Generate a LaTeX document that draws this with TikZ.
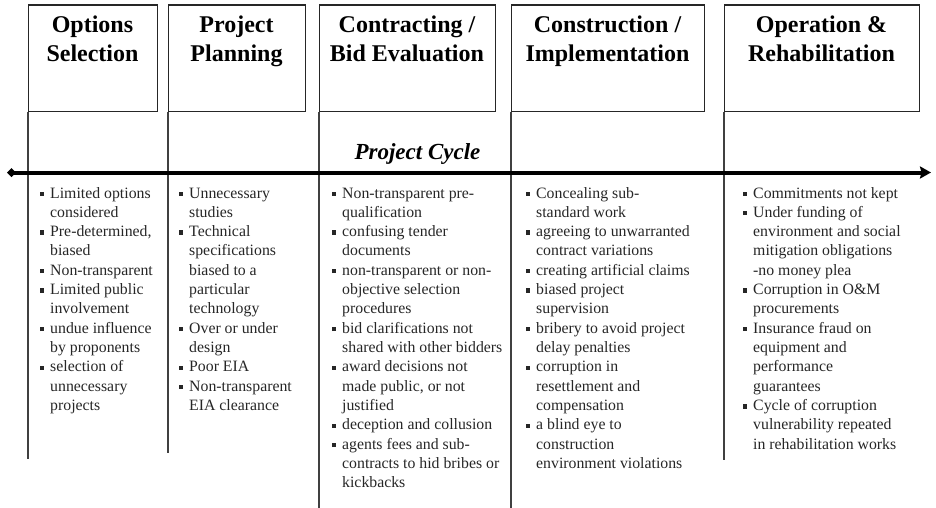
\documentclass[tikz,border=0pt]{standalone}
\usepackage{fontspec}
\setmainfont{Liberation Serif}
\usetikzlibrary{arrows.meta}
\newcommand\bodyfont{\fontsize{15.8}{19.33}\selectfont}
\newcommand\headfont{\fontsize{24}{28.7}\selectfont\bfseries}
\newcommand\bu{\makebox[10.5pt][l]{\raisebox{2.1pt}{\rule{4.2pt}{4.2pt}}}}
\newcommand\cu{\hspace*{10.5pt}}
\tikzset{
  boxst/.style={draw=black!85, line width=1.2pt, inner sep=0pt, anchor=north west},
  headst/.style={anchor=base, inner sep=0pt, text=black},
  listst/.style={anchor=base west, inner sep=0pt, text=black!85},
  colline/.style={draw=black!75, line width=1.4pt},
  axisst/.style={line width=4pt, {Diamond[length=9pt,width=9pt]}-{Stealth[length=11pt,width=12pt,inset=1.5pt]}}
}
\begin{document}
\begin{tikzpicture}[x=1pt,y=-1pt]
\useasboundingbox (0,0) rectangle (936,508);
% header boxes
\node[boxst, minimum width=129pt, minimum height=106.2pt] (b1) at (28,4.5) {};
\node[boxst, minimum width=137pt, minimum height=106.2pt] (b2) at (168,4.5) {};
\node[boxst, minimum width=176pt, minimum height=106.2pt] (b3) at (319,4.5) {};
\node[boxst, minimum width=193pt, minimum height=106.2pt] (b4) at (511,4.5) {};
\node[boxst, minimum width=195pt, minimum height=106.2pt] (b5) at (724,4.5) {};
% headings
\node[headst] (h1) at (92.5,33) {\parbox[t]{180pt}{\headfont\centering Options\\Selection}};
\node[headst] (h2) at (236.5,33) {\parbox[t]{180pt}{\headfont\centering Project\\Planning}};
\node[headst] (h3) at (407,33) {\parbox[t]{200pt}{\headfont\centering Contracting /\\Bid Evaluation}};
\node[headst] (h4) at (607.5,33) {\parbox[t]{210pt}{\headfont\centering Construction /\\Implementation}};
\node[headst] (h5) at (821.5,33) {\parbox[t]{210pt}{\headfont\centering Operation \&\\Rehabilitation}};
% column lines
\coordinate (c1) at (28,459);
\coordinate (c2) at (168,453);
\coordinate (c3) at (319,508);
\coordinate (c4) at (511,508);
\coordinate (c5) at (724,460);
\draw[colline] (b1.south west) -- (c1);
\draw[colline] (b2.south west) -- (c2);
\draw[colline] (b3.south west) -- (c3);
\draw[colline] (b4.south west) -- (c4);
\draw[colline] (b5.south west) -- (c5);
% axis
\coordinate (axL) at (7,172.5);
\coordinate (axR) at (931,172.5);
\draw[axisst] (axL) -- (axR);
\node[anchor=base, inner sep=0pt, font=\fontsize{23}{27}\selectfont\bfseries\itshape] (pc) at (417.5,159) {Project Cycle};
% lists
\node[listst] (l1) at (39.5,198) {\parbox[t]{200pt}{\bodyfont\raggedright
\bu Limited options\\ \cu considered\\
\bu Pre-determined,\\ \cu biased\\
\bu Non-transparent\\
\bu Limited public\\ \cu involvement\\
\bu undue influence\\ \cu by proponents\\
\bu selection of\\ \cu unnecessary\\ \cu projects}};
\node[listst] (l2) at (178.5,198) {\parbox[t]{200pt}{\bodyfont\raggedright
\bu Unnecessary\\ \cu studies\\
\bu Technical\\ \cu specifications\\ \cu biased to a\\ \cu particular\\ \cu technology\\
\bu Over or under\\ \cu design\\
\bu Poor EIA\\
\bu Non-transparent\\ \cu EIA clearance}};
\node[listst] (l3) at (331.5,198) {\parbox[t]{220pt}{\bodyfont\raggedright
\bu Non-transparent pre-\\ \cu qualification\\
\bu confusing tender\\ \cu documents\\
\bu non-transparent or non-\\ \cu objective selection\\ \cu procedures\\
\bu bid clarifications not\\ \cu shared with other bidders\\
\bu award decisions not\\ \cu made public, or not\\ \cu justified\\
\bu deception and collusion\\
\bu agents fees and sub-\\ \cu contracts to hid bribes or\\ \cu kickbacks}};
\node[listst] (l4) at (525.5,198) {\parbox[t]{220pt}{\bodyfont\raggedright
\bu Concealing sub-\\ \cu standard work\\
\bu agreeing to unwarranted\\ \cu contract variations\\
\bu creating artificial claims\\
\bu biased project\\ \cu supervision\\
\bu bribery to avoid project\\ \cu delay penalties\\
\bu corruption in\\ \cu resettlement and\\ \cu compensation\\
\bu a blind eye to\\ \cu construction\\ \cu environment violations}};
\node[listst] (l5) at (742.5,198) {\parbox[t]{220pt}{\bodyfont\raggedright
\bu Commitments not kept\\
\bu Under funding of\\ \cu environment and social\\ \cu mitigation obligations\\ \cu -no money plea\\
\bu Corruption in O\&M\\ \cu procurements\\
\bu Insurance fraud on\\ \cu equipment and\\ \cu performance\\ \cu guarantees\\
\bu Cycle of corruption\\ \cu vulnerability repeated\\ \cu in rehabilitation works}};
\end{tikzpicture}
\end{document}
